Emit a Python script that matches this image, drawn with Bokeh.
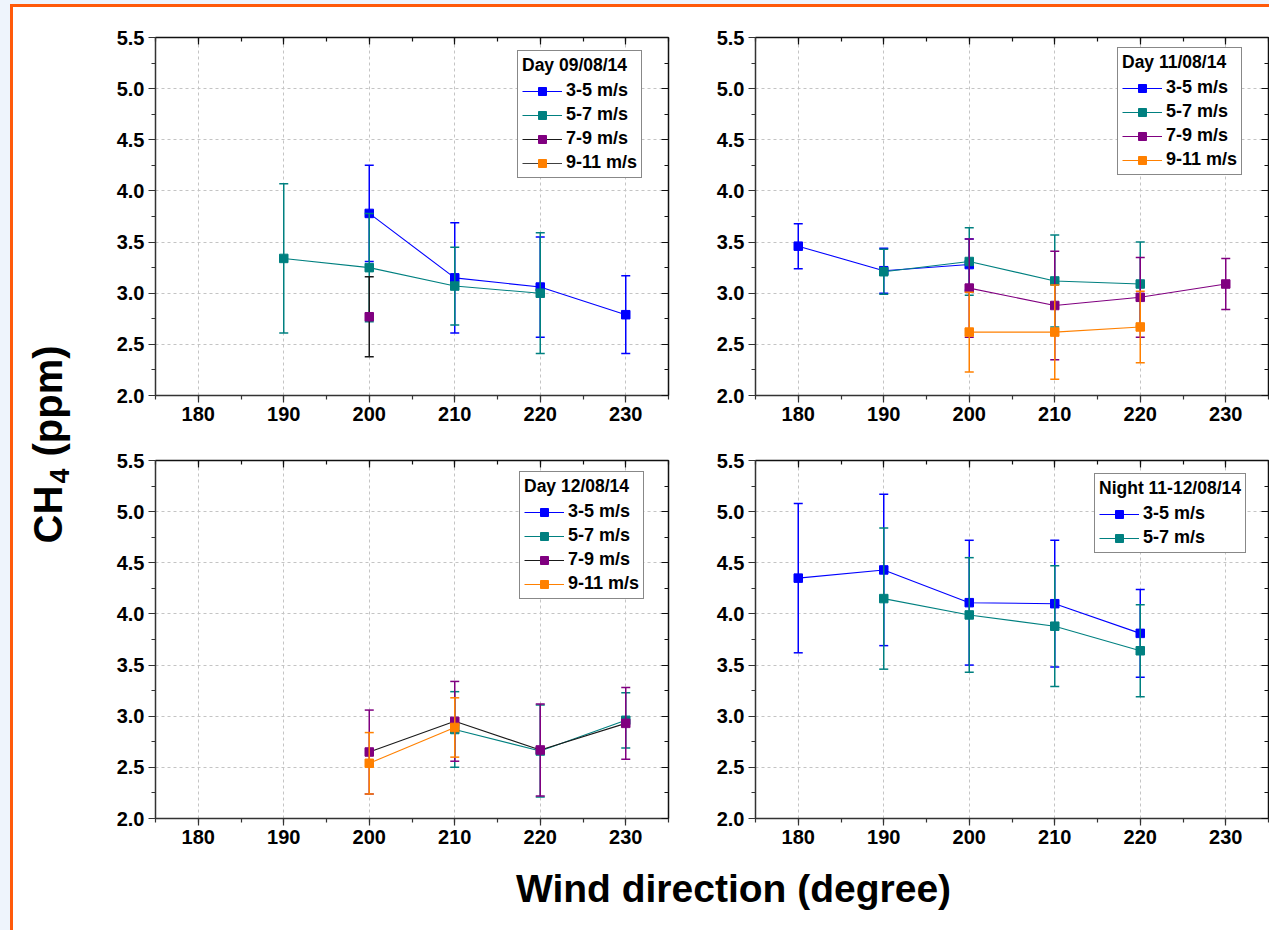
import math
from bokeh.plotting import figure
from bokeh.models import (Range1d, LinearAxis, SingleIntervalTicker, PrintfTickFormatter,
                          Legend, LegendItem, Div, CustomLabelingPolicy)
from bokeh.layouts import row, column
from bokeh.embed import file_html
from bokeh.resources import INLINE
from bokeh.core.properties import value

FONT = "Liberation Sans"

# ---------------- data ----------------
wind_range = (175, 235)
ch4_range = (2.0, 5.5)
speed_labels = ["3-5 m/s", "5-7 m/s", "7-9 m/s", "9-11 m/s"]
panel_titles = ["Day 09/08/14", "Day 11/08/14", "Day 12/08/14", "Night 11-12/08/14"]

# Panel 1 : Day 09/08/14
p1_s1_x = [200, 210, 220, 230]
p1_s1_y = [3.78, 3.15, 3.06, 2.79]
p1_s1_e = [0.47, 0.54, 0.49, 0.38]
p1_s2_x = [190, 200, 210, 220]
p1_s2_y = [3.34, 3.25, 3.07, 3.00]
p1_s2_e = [0.73, 0.53, 0.38, 0.59]
p1_s3_x = [200]
p1_s3_y = [2.77]
p1_s3_e = [0.39]
p1_s4_x = []
p1_s4_y = []
p1_s4_e = []

# Panel 2 : Day 11/08/14
p2_s1_x = [180, 190, 200]
p2_s1_y = [3.46, 3.22, 3.28]
p2_s1_e = [0.22, 0.22, 0.25]
p2_s2_x = [190, 200, 210, 220]
p2_s2_y = [3.21, 3.31, 3.12, 3.09]
p2_s2_e = [0.22, 0.33, 0.45, 0.41]
p2_s3_x = [200, 210, 220, 230]
p2_s3_y = [3.05, 2.88, 2.96, 3.09]
p2_s3_e = [0.48, 0.53, 0.39, 0.25]
p2_s4_x = [200, 210, 220]
p2_s4_y = [2.62, 2.62, 2.67]
p2_s4_e = [0.39, 0.46, 0.35]

# Panel 3 : Day 12/08/14
p3_s1_x = []
p3_s1_y = []
p3_s1_e = []
p3_s2_x = [210, 220, 230]
p3_s2_y = [2.87, 2.66, 2.96]
p3_s2_e = [0.37, 0.45, 0.27]
p3_s3_x = [200, 210, 220, 230]
p3_s3_y = [2.65, 2.95, 2.67, 2.93]
p3_s3_e = [0.41, 0.39, 0.45, 0.35]
p3_s4_x = [200, 210]
p3_s4_y = [2.54, 2.89]
p3_s4_e = [0.30, 0.29]

# Panel 4 : Night 11-12/08/14
p4_s1_x = [180, 190, 200, 210, 220]
p4_s1_y = [4.35, 4.43, 4.11, 4.10, 3.81]
p4_s1_e = [0.73, 0.74, 0.61, 0.62, 0.43]
p4_s2_x = [190, 200, 210, 220]
p4_s2_y = [4.15, 3.99, 3.88, 3.64]
p4_s2_e = [0.69, 0.56, 0.59, 0.45]

# ---------------- styles ----------------
BLUE = "#0000FF"
TEAL = "#008080"
PURPLE = "#800080"
ORANGE = "#FF8000"
BLACK = "#1a1a1a"
DGRAY = "#404040"

HIDE_LABELS = ("if (typeof indices.clear === 'function') { indices.clear(); return indices; }\n"
               "for (const i of Array.from(indices)) { indices.unset(i); }\n"
               "return indices;")


def series(label, xs, ys, es, marker, line, err):
    return dict(label=label, x=xs, y=ys, e=es, marker=marker, line=line, err=err)


def make_panel(title, ser, loc, width, height, bl, br, bt, bb):
    p = figure(width=width, height=height, x_range=Range1d(*wind_range),
               y_range=Range1d(*ch4_range), output_backend="svg", toolbar_location=None,
               min_border_left=bl, min_border_right=br, min_border_top=bt,
               min_border_bottom=bb, background_fill_color="white",
               border_fill_color="white", outline_line_color=None)
    xt = SingleIntervalTicker(interval=10, num_minor_ticks=2)
    yt = SingleIntervalTicker(interval=0.5, num_minor_ticks=2)
    p.xaxis.ticker = xt
    p.yaxis.ticker = yt
    p.yaxis.formatter = PrintfTickFormatter(format="%.1f")
    for ax in (p.xaxis[0], p.yaxis[0]):
        ax.major_label_text_font = FONT
        ax.major_label_text_font_style = "bold"
        ax.major_label_text_font_size = "20px"
        ax.major_label_text_color = "black"
        ax.axis_line_color = "#333333"
        ax.axis_line_width = 1.5
        ax.major_tick_line_color = "#333333"
        ax.minor_tick_line_color = "#333333"
        ax.major_tick_line_width = 1.2
        ax.minor_tick_line_width = 1.2
        ax.major_tick_in = 0
        ax.major_tick_out = 7
        ax.minor_tick_in = 0
        ax.minor_tick_out = 4
        ax.major_label_standoff = 4
    for place, tk in (("above", xt), ("right", yt)):
        ax = LinearAxis(ticker=tk, major_label_text_font_size="0px",
                        major_label_policy=CustomLabelingPolicy(code=HIDE_LABELS),
                        major_label_standoff=0, major_tick_in=7, major_tick_out=0,
                        minor_tick_in=4, minor_tick_out=0, axis_line_width=1.5,
                        axis_line_color="#111111", major_tick_line_color="#111111",
                        minor_tick_line_color="#111111", major_tick_line_width=1.2,
                        minor_tick_line_width=1.2)
        p.add_layout(ax, place)
    p.grid.grid_line_color = "#c4c4c4"
    p.grid.grid_line_dash = "3 3"
    p.grid.grid_line_width = 1

    items = []
    for s in ser:
        xs = s["x"] if s["x"] else [float("nan")]
        ys = s["y"] if s["y"] else [float("nan")]
        lo = [yy - ee for yy, ee in zip(s["y"], s["e"])]
        hi = [yy + ee for yy, ee in zip(s["y"], s["e"])]
        if s["x"]:
            p.segment(x0=s["x"], y0=lo, x1=s["x"], y1=hi, line_color=s["err"], line_width=1.5)
            p.scatter(x=s["x"] + s["x"], y=lo + hi, marker="dash", size=9,
                      line_color=s["err"], line_width=1.5)
        lr = p.line(x=xs, y=ys, line_color=s["line"], line_width=1.1)
        mr = p.scatter(x=xs, y=ys, marker="square", size=8.5,
                       fill_color=s["marker"], line_color=s["marker"], line_width=1)
        items.append(LegendItem(label=s["label"], renderers=[lr, mr]))

    leg = Legend(items=items, location=loc, title=title,
                 title_text_font=FONT, title_text_font_style="bold",
                 title_text_font_size="17.5px", title_text_color="black",
                 label_text_font=FONT, label_text_font_style="bold",
                 label_text_font_size="18px", label_text_color="black",
                 glyph_width=40, glyph_height=20, label_height=20,
                 label_standoff=4, spacing=3, padding=4, title_standoff=4,
                 border_line_color="#111111", border_line_width=1.2,
                 background_fill_color="white", background_fill_alpha=1.0, margin=0)
    p.add_layout(leg)
    return p


ser1 = [series(speed_labels[0], p1_s1_x, p1_s1_y, p1_s1_e, BLUE, BLUE, BLUE),
        series(speed_labels[1], p1_s2_x, p1_s2_y, p1_s2_e, TEAL, TEAL, TEAL),
        series(speed_labels[2], p1_s3_x, p1_s3_y, p1_s3_e, PURPLE, BLACK, BLACK),
        series(speed_labels[3], p1_s4_x, p1_s4_y, p1_s4_e, ORANGE, DGRAY, DGRAY)]
ser2 = [series(speed_labels[0], p2_s1_x, p2_s1_y, p2_s1_e, BLUE, BLUE, BLUE),
        series(speed_labels[1], p2_s2_x, p2_s2_y, p2_s2_e, TEAL, TEAL, TEAL),
        series(speed_labels[2], p2_s3_x, p2_s3_y, p2_s3_e, PURPLE, PURPLE, PURPLE),
        series(speed_labels[3], p2_s4_x, p2_s4_y, p2_s4_e, ORANGE, ORANGE, ORANGE)]
ser3 = [series(speed_labels[0], p3_s1_x, p3_s1_y, p3_s1_e, BLUE, BLUE, BLUE),
        series(speed_labels[1], p3_s2_x, p3_s2_y, p3_s2_e, TEAL, TEAL, TEAL),
        series(speed_labels[2], p3_s3_x, p3_s3_y, p3_s3_e, PURPLE, BLACK, PURPLE),
        series(speed_labels[3], p3_s4_x, p3_s4_y, p3_s4_e, ORANGE, ORANGE, ORANGE)]
ser4 = [series(speed_labels[0], p4_s1_x, p4_s1_y, p4_s1_e, BLUE, BLUE, BLUE),
        series(speed_labels[1], p4_s2_x, p4_s2_y, p4_s2_e, TEAL, TEAL, TEAL)]

p1 = make_panel(panel_titles[0], ser1, (362, 217), 600, 423, 55, 32, 30, 35)
p2 = make_panel(panel_titles[1], ser2, (362, 220), 569, 423, 55, 1, 30, 35)
p3 = make_panel(panel_titles[2], ser3, (364, 219), 600, 420, 55, 32, 30, 32)
p4 = make_panel(panel_titles[3], ser4, (339, 265), 569, 420, 55, 1, 30, 32)


def text_fig(w, h):
    f = figure(width=w, height=h, x_range=Range1d(0, w), y_range=Range1d(0, h),
               output_backend="svg", toolbar_location=None, min_border=0,
               outline_line_color=None, background_fill_color="white",
               border_fill_color="white")
    f.axis.visible = False
    f.grid.visible = False
    return f


# y-axis title (rotated), figure spans page y 7..930
yt_fig = text_fig(87, 923)
common = dict(angle=math.pi / 2, text_font=value(FONT), text_font_style="bold",
              text_color="black", text_align="left", text_baseline="middle")
yt_fig.text(x=[34], y=[387], text=["CH"], text_font_size="40px", **common)
yt_fig.text(x=[46], y=[447], text=["4"], text_font_size="27px", **common)
yt_fig.text(x=[34], y=[474], text=["(ppm)"], text_font_size="40px", **common)

# x-axis title, figure spans page x 100..1269, y 850..930
xt_fig = text_fig(1169, 80)
xt_fig.text(x=[633], y=[42], text=["Wind direction (degree)"], text_font=value(FONT),
            text_font_style="bold", text_font_size="39px", text_color="black",
            text_align="center", text_baseline="alphabetic")

top_strip = Div(text="", width=1269, height=7, margin=0, styles={
    "background": "linear-gradient(to right, #EEF4FC 10px, transparent 10px), "
                  "linear-gradient(to bottom, #EEF4FC 4px, #FF5A0A 4px)"})
left_strip = Div(text="", width=13, height=923, margin=0, styles={
    "background": "linear-gradient(to right, #EEF4FC 10px, #FF5A0A 10px)"})

layout = column(top_strip,
                row(left_strip, yt_fig,
                    column(row(p1, p2), row(p3, p4), xt_fig)))

open("out.html", "w").write(file_html(layout, INLINE))
